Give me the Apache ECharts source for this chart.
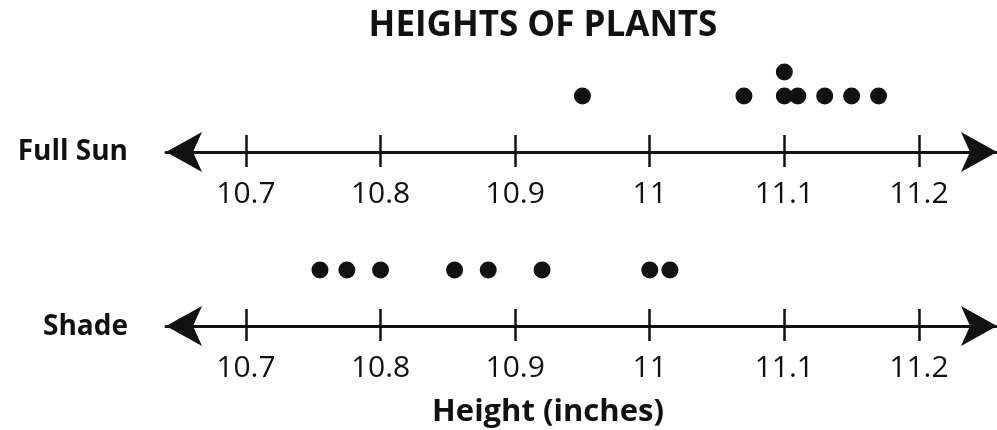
<!DOCTYPE html>
<html>
<head>
<meta charset="utf-8">
<script src="https://cdn.jsdelivr.net/npm/echarts@6/dist/echarts.min.js"></script>
<style>
  html, body { margin: 0; padding: 0; background: #fff; }
  #chart { width: 997px; height: 430px; }
</style>
</head>
<body>
<div id="chart"></div>
<script>
const tickValues = [10.7, 10.8, 10.9, 11, 11.1, 11.2];
const rowLabels = ["Full Sun", "Shade"];
const sunHeights = [10.95, 11.07, 11.1, 11.1, 11.11, 11.13, 11.15, 11.17];
const shadeHeights = [10.755, 10.775, 10.8, 10.855, 10.88, 10.92, 11.0, 11.015];

const ink = "#111";
const font = "'Open Sans', 'Noto Sans', sans-serif";

// stack repeated values upward like a dot plot
function stackDots(values) {
  const seen = {};
  return values.map((v) => {
    seen[v] = (seen[v] || 0) + 1;
    return [v, seen[v]];
  });
}

const xMin = 10.6406;
const xMax = 11.258;

function mainAxis(gridIndex) {
  return {
    type: "value",
    gridIndex,
    position: "bottom",
    min: xMin,
    max: xMax,
    axisLine: {
      show: true,
      onZero: false,
      symbol: ["arrow", "arrow"],
      symbolSize: [30, 36],
      lineStyle: { color: ink, width: 3 },
    },
    axisTick: {
      show: true,
      customValues: tickValues,
      length: 15,
      lineStyle: { color: ink, width: 2.5 },
    },
    axisLabel: {
      show: true,
      customValues: tickValues,
      margin: 27,
      color: ink,
      fontSize: 30,
      fontFamily: font,
      formatter: (v) => String(v),
    },
    splitLine: { show: false },
  };
}

// second axis only to draw the upper half of each tick mark
function tickAxis(gridIndex) {
  return {
    type: "value",
    gridIndex,
    position: "bottom",
    min: xMin,
    max: xMax,
    axisLine: { show: false, onZero: false },
    axisTick: {
      show: true,
      inside: true,
      customValues: tickValues,
      length: 17,
      lineStyle: { color: ink, width: 2.5 },
    },
    axisLabel: { show: false },
    splitLine: { show: false },
  };
}

function hiddenY(gridIndex) {
  return {
    type: "value",
    gridIndex,
    min: -1.3333,
    max: 2.9167,
    show: false,
  };
}

const chart = echarts.init(document.getElementById("chart"));

chart.setOption({
  animation: false,
  grid: [
    { left: 166, width: 831, top: 50, height: 102 },
    { left: 166, width: 831, top: 224, height: 102 },
  ],
  xAxis: [mainAxis(0), tickAxis(0), mainAxis(1), tickAxis(1)],
  yAxis: [hiddenY(0), hiddenY(1)],
  graphic: [
    {
      type: "text",
      x: 543,
      y: 26,
      style: {
        text: "HEIGHTS OF PLANTS",
        fill: ink,
        font: "bold 35px " + font,
        textAlign: "center",
        textVerticalAlign: "middle",
      },
    },
    {
      type: "text",
      x: 128,
      y: 152,
      style: {
        text: rowLabels[0],
        fill: ink,
        font: "bold 28px " + font,
        textAlign: "right",
        textVerticalAlign: "middle",
      },
    },
    {
      type: "text",
      x: 128,
      y: 327,
      style: {
        text: rowLabels[1],
        fill: ink,
        font: "bold 28px " + font,
        textAlign: "right",
        textVerticalAlign: "middle",
      },
    },
    {
      type: "text",
      x: 548,
      y: 412,
      style: {
        text: "Height (inches)",
        fill: ink,
        font: "bold 31px " + font,
        textAlign: "center",
        textVerticalAlign: "middle",
      },
    },
  ],
  series: [
    {
      type: "scatter",
      xAxisIndex: 0,
      yAxisIndex: 0,
      symbolSize: 17,
      itemStyle: { color: ink, opacity: 1 },
      data: stackDots(sunHeights),
    },
    {
      type: "scatter",
      xAxisIndex: 2,
      yAxisIndex: 1,
      symbolSize: 17,
      itemStyle: { color: ink, opacity: 1 },
      data: stackDots(shadeHeights),
    },
  ],
});
</script>
</body>
</html>
